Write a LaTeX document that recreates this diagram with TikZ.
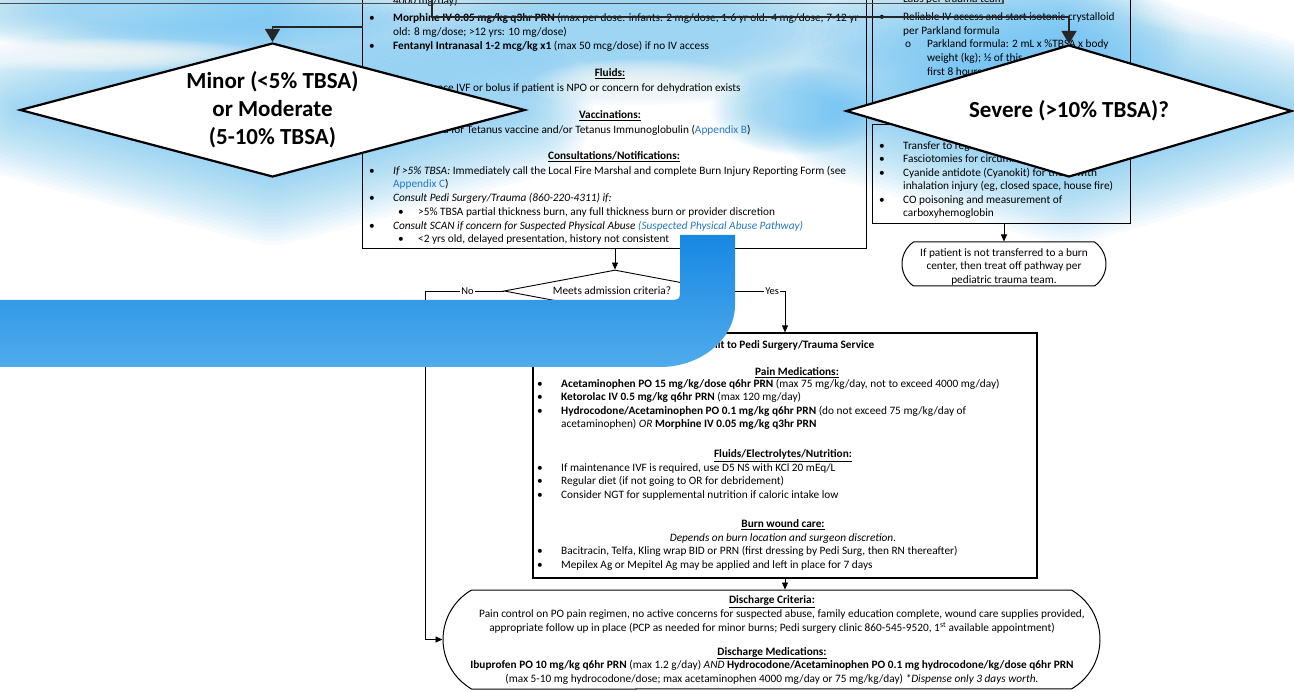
\documentclass[tikz,border=0pt]{standalone}
\usepackage{fontspec}
\setmainfont{Carlito}
\usetikzlibrary{shapes.geometric,shapes.misc,arrows.meta,shadows}

\definecolor{glowc}{RGB}{105,195,243}
\definecolor{linkc}{RGB}{38,120,196}
\definecolor{bandtop}{RGB}{24,136,226}
\definecolor{bandbot}{RGB}{80,171,236}
\newcommand\lk[1]{\textcolor{linkc}{#1}}
\newcommand\hd[1]{\underline{\textbf{#1}}}
\newcommand\bul[3]{\node[txt] (#1) at (#2,#3) {•};}
% soft blob: stacked translucent ellipses
\newcommand\glowblob[4]{%
  \foreach \s in {1.00,0.97,...,0.40}{%
    \fill[glowc, opacity=0.045] (#1,#2) ellipse [x radius=\s*#3pt, y radius=\s*#4pt];}}
\newcommand\whiteblob[4]{%
  \foreach \s in {1.00,0.94,...,0.30}{%
    \fill[white, opacity=0.09] (#1,#2) ellipse [x radius=\s*#3pt, y radius=\s*#4pt];}}
% halo around a diamond given by centre, half width, half height
\newcommand\dglow[4]{%
  \foreach \w in {136,128,...,8}{%
    \draw[glowc, opacity=0.05, line width=\w pt, line join=round]
      (#1,#2-#4) -- (#1+#3,#2) -- (#1,#2+#4) -- (#1-#3,#2) -- cycle;}}

\tikzset{
  txt/.style={inner sep=0pt, font=\fontsize{11.3}{13}\selectfont, anchor=base west},
  ctxt/.style={txt, anchor=base},
  boxbg/.style={draw=none, fill=white, inner sep=0pt,
    drop shadow={shadow xshift=1.3pt, shadow yshift=-1.3pt, fill=black!55, opacity=1}},
  boxline/.style={draw=black, line width=1.1pt},
  plainbox/.style={rectangle, draw=black, line width=1.2pt, fill=white, inner sep=0pt,
    drop shadow={shadow xshift=1.3pt, shadow yshift=-1.3pt, fill=black!55, opacity=1}},
  bigdec/.style={diamond, draw=black, line width=2.2pt, fill=white, inner sep=0pt},
  bigtxt/.style={font=\fontsize{23}{28}\selectfont\bfseries, align=center, inner sep=0pt},
  dec/.style={diamond, draw=black, line width=0.9pt, fill=white, inner sep=0pt},
  term/.style={rounded rectangle, draw=black, line width=1pt, fill=white, inner sep=0pt},
  conn/.style={draw=black, line width=0.8pt},
  arr/.style={conn, -{Triangle[width=6pt,length=7pt]}},
  bigarr/.style={draw=black!85, line width=1.6pt, -{Triangle[width=15pt,length=13pt]}},
  lbl/.style={fill=white, inner sep=1.5pt, font=\fontsize{10.5}{11}\selectfont},
}

\begin{document}
\begin{tikzpicture}[x=1pt,y=-1pt]
\useasboundingbox (0,0) rectangle (1294,692);
\clip (0,0) rectangle (1294,692);
\fill[white] (0,0) rectangle (1294,692);

% ---------- white backgrounds of the upper boxes ----------
\node[boxbg, minimum width=503pt, minimum height=258pt] (boxA) at (614.5,119) {};
\node[boxbg, minimum width=257pt, minimum height=128pt] (boxB) at (1001.5,51) {};
\node[boxbg, minimum width=257pt, minimum height=98pt] (boxC) at (1001.5,174) {};

% ---------- blue haze across the top ----------
\glowblob{170}{12}{260}{40}
\glowblob{620}{30}{320}{75}
\glowblob{1000}{40}{190}{80}
\glowblob{800}{110}{90}{45}
\dglow{272.5}{110}{252.5}{67}
\dglow{1069}{111}{223}{66}
\whiteblob{100}{55}{170}{17}
\whiteblob{640}{85}{110}{26}
\whiteblob{1250}{10}{120}{28}

% ---------- box borders ----------
\draw[boxline] (boxA.north west) rectangle (boxA.south east);
\draw[boxline] (boxB.north west) rectangle (boxB.south east);
\draw[boxline] (boxC.north west) rectangle (boxC.south east);

% ---------- text of the left box ----------
\node[txt] (a0) at (393,5) {4000 mg/day)};
\bul{ab1}{369}{21.5}
\node[txt] (a1) at (393,21.5) {\textbf{Morphine IV 0.05 mg/kg q3hr PRN} (max per dose: infants: 2 mg/dose; 1-6 yr old: 4 mg/dose; 7-12 yr};
\node[txt] (a2) at (393,35.5) {old: 8 mg/dose; >12 yrs: 10 mg/dose)};
\bul{ab3}{369}{50}
\node[txt] (a3) at (393,50) {\textbf{Fentanyl Intranasal 1-2 mcg/kg x1} (max 50 mcg/dose) if no IV access};
\node[ctxt] (a4) at (610,76.5) {\hd{Fluids:}};
\bul{ab5}{369}{91.5}
\node[txt] (a5) at (393,91.5) {Maintenance IVF or bolus if patient is NPO or concern for dehydration exists};
\node[ctxt] (a6) at (610,118.5) {\hd{Vaccinations:}};
\bul{ab7}{369}{133.5}
\node[txt] (a7) at (393,133.5) {Assess need for Tetanus vaccine and/or Tetanus Immunoglobulin (\lk{Appendix B})};
\node[ctxt] (a8) at (614,159.5) {\hd{Consultations/Notifications:}};
\bul{ab9}{369}{174.5}
\node[txt] (a9) at (393,174.5) {\textit{If >5\% TBSA:} Immediately call the Local Fire Marshal and complete Burn Injury Reporting Form (see};
\node[txt] (a10) at (393,187.5) {\lk{Appendix C})};
\bul{ab11}{369}{201.5}
\node[txt] (a11) at (393,201.5) {\textit{Consult Pedi Surgery/Trauma (860-220-4311) if:}};
\bul{ab12}{398}{215.5}
\node[txt] (a12) at (418,215.5) {>5\% TBSA partial thickness burn, any full thickness burn or provider discretion};
\bul{ab13}{369}{229.5}
\node[txt] (a13) at (393,229.5) {\textit{Consult SCAN if concern for Suspected Physical Abuse} \textit{\lk{(Suspected Physical Abuse Pathway)}}};
\bul{ab14}{398}{242.5}
\node[txt] (a14) at (418,242.5) {<2 yrs old, delayed presentation, history not consistent};

% ---------- text of the right boxes ----------
\node[txt] (b0) at (903,3) {Labs per trauma team};
\bul{bb1}{879}{21}
\node[txt] (b1) at (903,21) {Reliable IV access and start isotonic crystalloid};
\node[txt] (b2) at (903,34.5) {per Parkland formula};
\node[txt] (bb3) at (905,47.5) {o};
\node[txt] (b3) at (927,47.5) {Parkland formula: 2 mL x \%TBSA x body};
\node[txt] (b4) at (927,61.5) {weight (kg); ½ of this};
\node[txt] (b5) at (927,75.5) {first 8 hours};

\bul{cb1}{879}{149.5}
\node[txt] (c1) at (903,149.5) {Transfer to regional burn center};
\bul{cb2}{879}{163}
\node[txt] (c2) at (903,163) {Fasciotomies for circumferential burns};
\bul{cb3}{879}{176.5}
\node[txt] (c3) at (903,176.5) {Cyanide antidote (Cyanokit) for those with};
\node[txt] (c4) at (903,190) {inhalation injury (eg, closed space, house fire)};
\bul{cb5}{879}{203.5}
\node[txt] (c5) at (903,203.5) {CO poisoning and measurement of};
\node[txt] (c6) at (903,217) {carboxyhemoglobin};

% ---------- frame edge along the top ----------
\draw[black!70, line width=1.5pt] (0,3.5) -- (1003,3.5) -- (1003,-2);

% ---------- large decisions ----------
\node[bigdec, minimum width=505pt, minimum height=134pt] (minor) at (272.5,110) {};
\node[bigtxt] (minortxt) at (minor.center) {Minor (<5\% TBSA)\\or Moderate\\(5-10\% TBSA)};
\node[bigdec, minimum width=446pt, minimum height=132pt] (severe) at (1069,111) {};
\node[bigtxt] (severetxt) at (severe.center) {Severe (>10\% TBSA)?};

\coordinate (topL) at (363,27);
\coordinate (topR) at (432,-2);
\coordinate (bendR) at (1069,17);
\draw[bigarr] (topL) -| (minor.north);
\draw[bigarr] (topR) |- (bendR) -- (severe.north);

% ---------- off-pathway note ----------
\node[term, rounded rectangle arc length=110, minimum width=204pt, minimum height=44pt] (offp) at (1004,264) {};
\node[ctxt] (f1) at (1004,256.5) {If patient is not transferred to a burn};
\node[ctxt] (f2) at (1004,270) {center, then treat off pathway per};
\node[ctxt] (f3) at (1004,283.5) {pediatric trauma team.};
\draw[arr] (boxC.south -| offp.north) -- (offp.north);

% ---------- admission decision ----------
\node[dec, minimum width=222pt, minimum height=42pt] (adm) at (615,291) {};
\node[txt, anchor=base] (admtxt) at (612,295) {Meets admission criteria?};
\draw[arr] (boxA.south -| adm.north) -- (adm.north);

% ---------- admission box ----------
\node[plainbox, minimum width=504pt, minimum height=245pt] (boxD) at (785,455.5) {};
\node[ctxt] (d0) at (785,348.5) {\textbf{Admit to Pedi Surgery/Trauma Service}};
\node[ctxt] (d1) at (797,375.5) {\hd{Pain Medications:}};
\bul{db2}{537}{387.5}
\node[txt] (d2) at (561,387.5) {\textbf{Acetaminophen PO 15 mg/kg/dose q6hr PRN} (max 75 mg/kg/day, not to exceed 4000 mg/day)};
\bul{db3}{537}{401}
\node[txt] (d3) at (561,401) {\textbf{Ketorolac IV 0.5 mg/kg q6hr PRN} (max 120 mg/day)};
\bul{db4}{537}{414.5}
\node[txt] (d4) at (561,414.5) {\textbf{Hydrocodone/Acetaminophen PO 0.1 mg/kg q6hr PRN} (do not exceed 75 mg/kg/day of};
\node[txt] (d5) at (561,428) {acetaminophen) \textit{OR} \textbf{Morphine IV 0.05 mg/kg q3hr PRN}};
\node[ctxt] (d6) at (783,458) {\hd{Fluids/Electrolytes/Nutrition:}};
\bul{db7}{537}{471.5}
\node[txt] (d7) at (561,471.5) {If maintenance IVF is required, use D5 NS with KCl 20 mEq/L};
\bul{db8}{537}{485}
\node[txt] (d8) at (561,485) {Regular diet (if not going to OR for debridement)};
\bul{db9}{537}{498.5}
\node[txt] (d9) at (561,498.5) {Consider NGT for supplemental nutrition if caloric intake low};
\node[ctxt] (d10) at (783,528) {\hd{Burn wound care:}};
\node[ctxt] (d11) at (783,541) {\textit{Depends on burn location and surgeon discretion.}};
\bul{db12}{537}{554.5}
\node[txt] (d12) at (561,554.5) {Bacitracin, Telfa, Kling wrap BID or PRN (first dressing by Pedi Surg, then RN thereafter)};
\bul{db13}{537}{568}
\node[txt] (d13) at (561,568) {Mepilex Ag or Mepitel Ag may be applied and left in place for 7 days};

% ---------- discharge terminator ----------
\node[term, rounded rectangle arc length=120, minimum width=657pt, minimum height=99pt] (disc) at (771.5,639.5) {};
\node[ctxt] (e1) at (772,603.5) {\hd{Discharge Criteria:}};
\node[ctxt] (e2) at (782,617.5) {Pain control on PO pain regimen, no active concerns for suspected abuse, family education complete, wound care supplies provided,};
\node[ctxt] (e3) at (772,631) {appropriate follow up in place (PCP as needed for minor burns; Pedi surgery clinic 860-545-9520, 1\textsuperscript{st} available appointment)};
\node[ctxt] (e4) at (772,655) {\hd{Discharge Medications:}};
\node[ctxt] (e5) at (772,668.5) {\textbf{Ibuprofen PO 10 mg/kg q6hr PRN} (max 1.2 g/day) \textit{AND} \textbf{Hydrocodone/Acetaminophen PO 0.1 mg hydrocodone/kg/dose q6hr PRN}};
\node[ctxt] (e6) at (772,682) {(max 5-10 mg hydrocodone/dose; max acetaminophen 4000 mg/day or 75 mg/kg/day) \textit{*Dispense only 3 days worth.}};

% ---------- decision branches ----------
\coordinate (noX) at (425,291);
\coordinate (yesX) at (785,291);
\draw[arr] (adm.west) -- node[lbl, pos=0.46] (nolbl) {No} (noX) |- (disc.west);
\draw[arr] (adm.east) -- node[lbl, pos=0.78] (yeslbl) {Yes} (yesX) -- (boxD.north);
\draw[arr] (boxD.south) -- (boxD.south |- disc.north);

% ---------- blue band laid over the middle ----------
\shade[top color=bandtop, bottom color=bandbot]
  (-5,300) -- (668,300) .. controls (680,300) .. (680,288) -- (680,235) -- (735,235)
  -- (735,305) .. controls (735,339) and (701,367) .. (660,367) -- (-5,367) -- cycle;
\end{tikzpicture}
\end{document}
